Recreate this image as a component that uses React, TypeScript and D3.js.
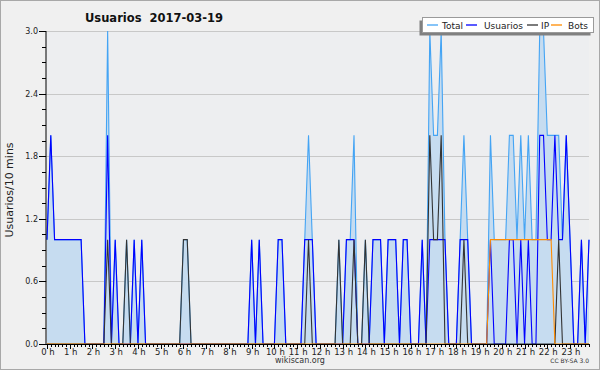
import React from "react";
import * as d3 from "d3";

// 10-minute slots, 144 per day, grouped by hour (6 values per row)
const hourLabels = Array.from({ length: 24 }, (_, h) => `${h} h`);
const yTicks = [0, 0.6, 1.2, 1.8, 2.4, 3.0];

const total = [
  1, 2, 1, 1, 1, 1, // 0h
  1, 1, 1, 1, 0, 0, // 1h
  0, 0, 0, 0, 3, 0, // 2h
  1, 0, 0, 1, 0, 1, // 3h
  0, 1, 0, 0, 0, 0, // 4h
  0, 0, 0, 0, 0, 0, // 5h
  1, 1, 0, 0, 0, 0, // 6h
  0, 0, 0, 0, 0, 0, // 7h
  0, 0, 0, 0, 0, 0, // 8h
  1, 0, 1, 0, 0, 0, // 9h
  0, 1, 1, 0, 0, 0, // 10h
  0, 0, 1, 2, 1, 0, // 11h
  0, 0, 0, 0, 0, 1, // 12h
  0, 1, 1, 2, 0, 0, // 13h
  1, 0, 1, 1, 1, 0, // 14h
  1, 1, 1, 0, 1, 1, // 15h
  0, 0, 0, 1, 0, 3, // 16h
  2, 2, 3, 1, 0, 0, // 17h
  0, 1, 2, 1, 0, 0, // 18h
  0, 0, 0, 2, 1, 1, // 19h
  1, 1, 2, 2, 1, 2, // 20h
  1, 2, 1, 1, 3, 3, // 21h
  2, 2, 2, 2, 1, 2, // 22h
  1, 0, 0, 1, 0, 1, // 23h
];

const usuarios = [
  1, 2, 1, 1, 1, 1,
  1, 1, 1, 1, 0, 0,
  0, 0, 0, 0, 2, 0,
  1, 0, 0, 0, 0, 1,
  0, 1, 0, 0, 0, 0,
  0, 0, 0, 0, 0, 0,
  0, 0, 0, 0, 0, 0,
  0, 0, 0, 0, 0, 0,
  0, 0, 0, 0, 0, 0,
  1, 0, 1, 0, 0, 0,
  0, 1, 1, 0, 0, 0,
  0, 0, 1, 1, 1, 0,
  0, 0, 0, 0, 0, 0,
  0, 1, 1, 1, 0, 0,
  0, 0, 1, 1, 1, 0,
  1, 1, 1, 0, 1, 1,
  0, 0, 0, 1, 0, 1,
  1, 1, 1, 1, 0, 0,
  0, 1, 1, 1, 0, 0,
  0, 0, 0, 1, 0, 0,
  0, 0, 1, 1, 0, 1,
  0, 1, 0, 0, 2, 2,
  1, 1, 2, 1, 1, 2,
  1, 0, 0, 1, 0, 1,
];

const ip = [
  0, 0, 0, 0, 0, 0,
  0, 0, 0, 0, 0, 0,
  0, 0, 0, 0, 1, 0,
  0, 0, 0, 1, 0, 0,
  0, 0, 0, 0, 0, 0,
  0, 0, 0, 0, 0, 0,
  1, 1, 0, 0, 0, 0,
  0, 0, 0, 0, 0, 0,
  0, 0, 0, 0, 0, 0,
  0, 0, 0, 0, 0, 0,
  0, 0, 0, 0, 0, 0,
  0, 0, 0, 1, 0, 0,
  0, 0, 0, 0, 0, 1,
  0, 0, 0, 1, 0, 0,
  1, 0, 0, 0, 0, 0,
  0, 0, 0, 0, 0, 0,
  0, 0, 0, 0, 0, 2,
  1, 1, 2, 0, 0, 0,
  0, 0, 1, 0, 0, 0,
  0, 0, 0, 0, 0, 0,
  0, 0, 0, 0, 0, 0,
  0, 0, 0, 0, 0, 0,
  0, 0, 0, 1, 0, 0,
  0, 0, 0, 0, 0, 0,
];

const bots = [
  0, 0, 0, 0, 0, 0,
  0, 0, 0, 0, 0, 0,
  0, 0, 0, 0, 0, 0,
  0, 0, 0, 0, 0, 0,
  0, 0, 0, 0, 0, 0,
  0, 0, 0, 0, 0, 0,
  0, 0, 0, 0, 0, 0,
  0, 0, 0, 0, 0, 0,
  0, 0, 0, 0, 0, 0,
  0, 0, 0, 0, 0, 0,
  0, 0, 0, 0, 0, 0,
  0, 0, 0, 0, 0, 0,
  0, 0, 0, 0, 0, 0,
  0, 0, 0, 0, 0, 0,
  0, 0, 0, 0, 0, 0,
  0, 0, 0, 0, 0, 0,
  0, 0, 0, 0, 0, 0,
  0, 0, 0, 0, 0, 0,
  0, 0, 0, 0, 0, 0,
  0, 0, 0, 1, 1, 1,
  1, 1, 1, 1, 1, 1,
  1, 1, 1, 1, 1, 1,
  1, 1, 0, 0, 0, 0,
  0, 0, 0, 0, 0, 0,
];

const seriesNames = ["Total", "Usuarios", "IP", "Bots"];
const seriesColors = ["#44a4f4", "#0000ff", "#333333", "#ff8c00"];

const W = 600, H = 370;
const left = 46, right = 589, top = 31, bottom = 344;
const FONT = "DejaVu Sans, sans-serif";

export default function App() {
  const n = total.length;
  const x = d3.scaleLinear().domain([0, n - 1]).range([left + 1, right]);
  const y = d3.scaleLinear().domain([0, 3]).range([bottom, top]);
  const idx = d3.range(n);
  const line = (arr: number[]) =>
    d3.line<number>().x((i) => x(i)).y((i) => y(arr[i]))(idx) || "";
  const area = d3.area<number>().x((i) => x(i)).y0(y(0)).y1((i) => y(total[i]))(idx) || "";
  const minorY = d3.range(0, 3.0001, 0.15);
  const data = [total, usuarios, ip, bots];

  const legendItems = [
    { lx: 427, tx: 442 },
    { lx: 466, tx: 484 },
    { lx: 527, tx: 541 },
    { lx: 551, tx: 568 },
  ];

  return (
    <svg width={W} height={H} style={{ position: "absolute", left: 0, top: 0 }}>
      <rect x={0.5} y={0.5} width={W - 1} height={H - 1} fill="#f0f0f0" stroke="#a8a8a8" />
      <rect x={left} y={top} width={right - left} height={bottom - top} fill="#edeef0" />
      {yTicks.map((t) => (
        <line key={"g" + t} x1={left} x2={right} y1={Math.round(y(t)) + 0.5} y2={Math.round(y(t)) + 0.5} stroke="#c8c8c8" strokeWidth={1} />
      ))}
      <path d={area} fill="#c6dcf0" />
      {data.map((arr, k) => (
        <path key={k} d={line(arr)} fill="none" stroke={seriesColors[k]} strokeWidth={1.1} strokeLinejoin="miter" />
      ))}
      {/* axes */}
      <line x1={left} x2={left} y1={top} y2={bottom} stroke="#000" />
      <line x1={left} x2={right + 1} y1={bottom + 0.5} y2={bottom + 0.5} stroke="#000" />
      {minorY.map((t, k) => (
        <line key={"my" + k} x1={left - 4} x2={left} y1={Math.round(y(t)) + 0.5} y2={Math.round(y(t)) + 0.5} stroke="#000" />
      ))}
      {yTicks.map((t) => (
        <g key={"yt" + t}>
          <line x1={left - 7} x2={left} y1={Math.round(y(t)) + 0.5} y2={Math.round(y(t)) + 0.5} stroke="#000" />
          <text x={left - 8} y={y(t) + 3} textAnchor="end" fontSize={8} fontFamily={FONT} fill="#222">
            {t.toFixed(1)}
          </text>
        </g>
      ))}
      {idx.map((i) => (
        <line key={"xt" + i} x1={Math.round(x(i)) + 0.5} x2={Math.round(x(i)) + 0.5} y1={bottom} y2={bottom + (i % 6 === 0 ? 5 : 3)} stroke="#000" />
      ))}
      {hourLabels.map((h, k) => (
        <text key={h} x={x(k * 6) + 1} y={bottom + 11} textAnchor="middle" fontSize={8.5} fontFamily={FONT} fill="#222">
          {h}
        </text>
      ))}
      <text x={10} y={190} transform="rotate(-90 10 190)" textAnchor="middle" dominantBaseline="middle" fontSize={11} fontFamily={FONT} fill="#222">
        Usuarios/10 mins
      </text>
      <text x={85} y={22} fontSize={11.5} fontWeight="bold" fontFamily={FONT} fill="#111">
        {"Usuarios\u00a0\u00a02017-03-19"}
      </text>
      <text x={300} y={363} textAnchor="middle" fontSize={8} fontFamily={FONT} fill="#333">
        wikiscan.org
      </text>
      <text x={589} y={363} textAnchor="end" fontSize={6} fontFamily={FONT} fill="#333">
        CC BY-SA 3.0
      </text>
      {/* legend */}
      <rect x={419.5} y={20.5} width={171} height={15} fill="#808080" />
      <rect x={422.5} y={17.5} width={171} height={15} fill="#ffffff" stroke="#9a9a9a" />
      {seriesNames.map((s, k) => (
        <g key={s}>
          <line x1={legendItems[k].lx} x2={legendItems[k].lx + 11} y1={25} y2={25} stroke={seriesColors[k]} strokeWidth={1.3} />
          <text x={legendItems[k].tx} y={28.5} fontSize={9} fontFamily={FONT} fill="#222">
            {s}
          </text>
        </g>
      ))}
    </svg>
  );
}
